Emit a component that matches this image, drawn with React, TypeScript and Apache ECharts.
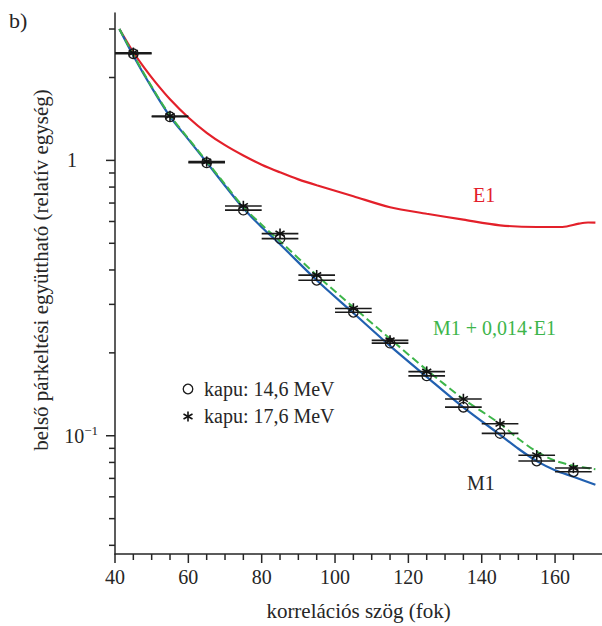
import React, { useEffect, useRef } from 'react';
import * as echarts from 'echarts';

const X_MIN = 40;
const X_MAX = 172.8;
const Y_MIN = 0.0372;
const Y_MAX = 3.43;

// measured points (correlation angle, deg)
const angles = [45, 55, 65, 75, 85, 95, 105, 115, 125, 135, 145, 155, 165];
const gate146 = [2.44, 1.44, 0.98, 0.66, 0.52, 0.367, 0.281, 0.217, 0.165, 0.127, 0.102, 0.081, 0.074];
const gate176 = [2.46, 1.45, 0.99, 0.683, 0.542, 0.383, 0.29, 0.222, 0.171, 0.136, 0.1105, 0.085, 0.0764];
const ANGLE_ERR = 5;

// theory curves
const curveX = [41.2, 45, 50, 55, 60, 65, 70, 75, 80, 85, 95, 105, 115, 125, 135, 145, 150, 155, 160, 165, 171];
const m1 = [3.0, 2.40, 1.839, 1.443, 1.192, 0.984, 0.809, 0.670, 0.572, 0.496, 0.367, 0.279, 0.212, 0.1636, 0.1268, 0.1008, 0.0897, 0.0809, 0.075, 0.071, 0.0664];
const m1e1 = [3.0, 2.42, 1.853, 1.456, 1.201, 0.992, 0.819, 0.678, 0.584, 0.509, 0.383, 0.293, 0.225, 0.1735, 0.136, 0.1105, 0.0975, 0.0875, 0.0812, 0.0779, 0.0756];
const e1X = [41.2, 45, 48, 51, 55, 60, 65, 70, 75, 80, 85, 90, 95, 105, 115, 125, 135, 145, 155, 162, 166.5, 169, 171];
const e1 = [3.0, 2.47, 2.169, 1.925, 1.668, 1.432, 1.26, 1.136, 1.042, 0.965, 0.905, 0.853, 0.812, 0.741, 0.676, 0.640, 0.609, 0.581, 0.573, 0.573, 0.589, 0.595, 0.594];

// axis ticks
const xLabels = [40, 60, 80, 100, 120, 140, 160];
const xMinorTicks = [45, 50, 55, 65, 70, 75, 85, 90, 95, 105, 110, 115, 125, 130, 135, 145, 150, 155, 165];
const yMajorTicks = [0.1, 1];
const yMinorTicks = [0.04, 0.05, 0.06, 0.07, 0.08, 0.09, 0.2, 0.3, 0.4, 0.5, 0.6, 0.7, 0.8, 0.9, 2, 3];

const FONT = '"Liberation Serif", "Times New Roman", serif';
const INK = '#262626';
const RED = '#e3202a';
const BLUE = '#2160b0';
const GREEN = '#3db54a';

export default function App() {
  const ref = useRef<HTMLDivElement>(null);

  useEffect(() => {
    document.body.style.margin = '0';
    if (!ref.current) return;
    const chart = echarts.init(ref.current, undefined, { renderer: 'svg' });

    const tickItem = (len: number) => (params: any, api: any) => {
      const isX = api.value(2) === 0;
      const p = api.coord([api.value(0), api.value(1)]);
      return isX
        ? { type: 'line', shape: { x1: p[0], y1: p[1], x2: p[0], y2: p[1] + len }, style: { stroke: INK, lineWidth: 1.5 } }
        : { type: 'line', shape: { x1: p[0] - len, y1: p[1], x2: p[0], y2: p[1] }, style: { stroke: INK, lineWidth: 1.5 } };
    };

    const pointItem = (kind: 'circle' | 'star') => (params: any, api: any) => {
      const x = api.value(0);
      const y = api.value(1);
      const c = api.coord([x, y]);
      const l = api.coord([x - ANGLE_ERR, y]);
      const r = api.coord([x + ANGLE_ERR, y]);
      const children: any[] = [
        { type: 'line', shape: { x1: l[0], y1: l[1], x2: r[0], y2: r[1] }, style: { stroke: '#1a1a1a', lineWidth: 1.6 } },
      ];
      if (kind === 'circle') {
        children.push({ type: 'circle', shape: { cx: c[0], cy: c[1], r: 4.8 }, style: { fill: 'none', stroke: '#1a1a1a', lineWidth: 1.3 } });
      } else {
        const R = 5.2;
        [90, 30, 150].forEach((deg) => {
          const a = (deg * Math.PI) / 180;
          children.push({
            type: 'line',
            shape: { x1: c[0] - R * Math.cos(a), y1: c[1] - R * Math.sin(a), x2: c[0] + R * Math.cos(a), y2: c[1] + R * Math.sin(a) },
            style: { stroke: '#111', lineWidth: 1.6 },
          });
        });
      }
      return { type: 'group', children };
    };

    const option: any = {
      animation: false,
      backgroundColor: '#ffffff',
      grid: { left: 115, right: 0, top: 13, bottom: 70 },
      xAxis: {
        type: 'value',
        min: X_MIN,
        max: X_MAX,
        interval: 20,
        axisLine: { show: true, lineStyle: { color: INK, width: 1.5 } },
        axisTick: { show: false },
        splitLine: { show: false },
        axisLabel: {
          margin: 13,
          color: INK,
          fontFamily: FONT,
          fontSize: 20,
          showMaxLabel: false,
          formatter: (v: number) => (xLabels.includes(Math.round(v)) && Math.abs(v - Math.round(v)) < 1e-6 ? String(Math.round(v)) : ''),
        },
        name: 'korrelációs szög (fok)',
        nameLocation: 'middle',
        nameGap: 46,
        nameTextStyle: { color: INK, fontFamily: FONT, fontSize: 21 },
      },
      yAxis: {
        type: 'log',
        logBase: 10,
        min: Y_MIN,
        max: Y_MAX,
        axisLine: { show: true, lineStyle: { color: INK, width: 1.5 } },
        axisTick: { show: false },
        minorTick: { show: false },
        splitLine: { show: false },
        axisLabel: {
          margin: 17,
          color: INK,
          fontFamily: FONT,
          fontSize: 20,
          showMinLabel: false,
          showMaxLabel: false,
          formatter: (v: number) => {
            if (Math.abs(v - 1) < 1e-6) return '{one|1}';
            if (Math.abs(v - 0.1) < 1e-7) return '{ten|10}{sup|−1}';
            return '';
          },
          rich: {
            one: { fontFamily: FONT, fontSize: 20, color: INK, padding: [0, 21, 0, 0] },
            ten: { fontFamily: FONT, fontSize: 20, color: INK },
            sup: { fontFamily: FONT, fontSize: 13, color: INK, padding: [0, 0, 10, 0] },
          },
        },
      },
      graphic: [
        { type: 'text', left: 9, top: 9, style: { text: 'b)', font: `22px ${FONT}`, fill: INK } },
        {
          type: 'text',
          x: 41,
          y: 270,
          rotation: Math.PI / 2,
          style: { text: 'belső párkeltési együttható (relatív egység)', font: `21px ${FONT}`, fill: INK, align: 'center', verticalAlign: 'middle' },
        },
        { type: 'text', x: 473, y: 195, style: { text: 'E1', font: `20px ${FONT}`, fill: RED, verticalAlign: 'middle' } },
        { type: 'text', x: 433, y: 328, style: { text: 'M1 + 0,014·E1', font: `20px ${FONT}`, fill: GREEN, verticalAlign: 'middle' } },
        { type: 'text', x: 467, y: 483, style: { text: 'M1', font: `20px ${FONT}`, fill: INK, verticalAlign: 'middle' } },
        // legend
        { type: 'circle', shape: { cx: 188, cy: 389, r: 4.8 }, style: { fill: 'none', stroke: '#1a1a1a', lineWidth: 1.3 } },
        { type: 'text', x: 204, y: 389, style: { text: 'kapu: 14,6 MeV', font: `20px ${FONT}`, fill: INK, verticalAlign: 'middle' } },
        { type: 'line', shape: { x1: 188, y1: 411.5, x2: 188, y2: 421.5 }, style: { stroke: '#111', lineWidth: 1.6 } },
        { type: 'line', shape: { x1: 183.5, y1: 414, x2: 192.5, y2: 419 }, style: { stroke: '#111', lineWidth: 1.6 } },
        { type: 'line', shape: { x1: 183.5, y1: 419, x2: 192.5, y2: 414 }, style: { stroke: '#111', lineWidth: 1.6 } },
        { type: 'text', x: 204, y: 416, style: { text: 'kapu: 17,6 MeV', font: `20px ${FONT}`, fill: INK, verticalAlign: 'middle' } },
      ],
      series: [
        {
          name: 'E1',
          type: 'line',
          data: e1X.map((x, i) => [x, e1[i]]),
          showSymbol: false,
          smooth: 0.3,
          lineStyle: { color: RED, width: 2.2 },
          z: 2,
        },
        {
          name: 'M1',
          type: 'line',
          data: curveX.map((x, i) => [x, m1[i]]),
          showSymbol: false,
          smooth: 0.3,
          lineStyle: { color: BLUE, width: 2.2 },
          z: 2,
        },
        {
          name: 'M1 + 0,014·E1',
          type: 'line',
          data: curveX.map((x, i) => [x, m1e1[i]]),
          showSymbol: false,
          smooth: 0.3,
          lineStyle: { color: GREEN, width: 2, type: [8, 4] },
          z: 3,
        },
        {
          name: 'kapu: 14,6 MeV',
          type: 'custom',
          renderItem: pointItem('circle'),
          data: angles.map((a, i) => [a, gate146[i]]),
          clip: false,
          z: 4,
        },
        {
          name: 'kapu: 17,6 MeV',
          type: 'custom',
          renderItem: pointItem('star'),
          data: angles.map((a, i) => [a, gate176[i]]),
          clip: false,
          z: 4,
        },
        {
          name: 'xMajorTicks',
          type: 'custom',
          renderItem: tickItem(9),
          data: xLabels.map((v) => [v, Y_MIN, 0]),
          clip: false,
          silent: true,
        },
        {
          name: 'xMinorTicks',
          type: 'custom',
          renderItem: tickItem(6),
          data: xMinorTicks.map((v) => [v, Y_MIN, 0]),
          clip: false,
          silent: true,
        },
        {
          name: 'yMajorTicks',
          type: 'custom',
          renderItem: tickItem(9),
          data: yMajorTicks.map((v) => [X_MIN, v, 1]),
          clip: false,
          silent: true,
        },
        {
          name: 'yMinorTicks',
          type: 'custom',
          renderItem: tickItem(6),
          data: yMinorTicks.map((v) => [X_MIN, v, 1]),
          clip: false,
          silent: true,
        },
      ],
    };

    chart.setOption(option);
    return () => chart.dispose();
  }, []);

  return <div ref={ref} style={{ width: 602, height: 626 }} />;
}
